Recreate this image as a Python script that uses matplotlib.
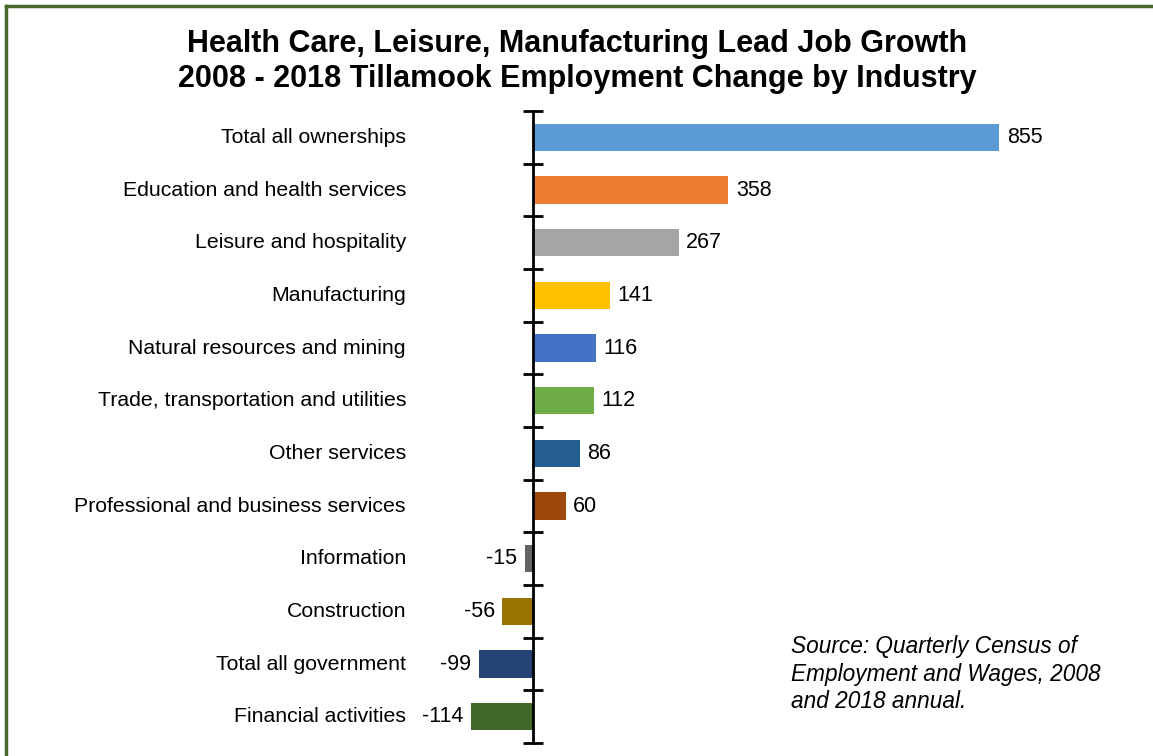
import matplotlib.pyplot as plt
import numpy as np
from matplotlib.lines import Line2D
from matplotlib.transforms import blended_transform_factory

plt.rcParams['font.family'] = ['Liberation Sans', 'DejaVu Sans']

# Data
industries = ['Total all ownerships', 'Education and health services', 'Leisure and hospitality',
              'Manufacturing', 'Natural resources and mining', 'Trade, transportation and utilities',
              'Other services', 'Professional and business services', 'Information',
              'Construction', 'Total all government', 'Financial activities']
change = [855, 358, 267, 141, 116, 112, 86, 60, -15, -56, -99, -114]
colors = ['#5B9BD5', '#ED7D31', '#A5A5A5', '#FFC000', '#4472C4', '#70AD47',
          '#255E91', '#9E480E', '#636363', '#997300', '#264478', '#43682B']

W, H = 1153, 756
fig = plt.figure(figsize=(W / 100, H / 100), dpi=100)

# axes placed so the zero line sits at x=533px
xmin, xmax = -200, 1000
px_per_unit = 466 / 855
left_px = 533 + xmin * px_per_unit
width_px = (xmax - xmin) * px_per_unit
ax = fig.add_axes([left_px / W, 1 - 743 / H, width_px / W, (743 - 111) / H])

y = np.arange(len(industries))
bars = ax.barh(y, change, height=0.52, color=colors)
ax.set_xlim(xmin, xmax)
ax.set_ylim(len(industries) - 0.5, -0.5)

for spine in ['top', 'right', 'bottom']:
    ax.spines[spine].set_visible(False)
ax.spines['left'].set_position(('data', 0))
ax.spines['left'].set_linewidth(2)
ax.set_xticks([])
ax.set_yticks(np.arange(len(industries) + 1) - 0.5)
ax.tick_params(axis='y', direction='inout', length=15, width=2, labelleft=False)

# category names at a fixed spot left of the axis
trans = blended_transform_factory(fig.transFigure, ax.transData)
for i, name in enumerate(industries):
    ax.text(406 / W, i, name, transform=trans, ha='right', va='center', fontsize=15.3)

# value labels
for bar, val in zip(bars, change):
    yc = bar.get_y() + bar.get_height() / 2
    if val >= 0:
        ax.text(val + 14, yc, str(val), ha='left', va='center', fontsize=15.5)
    else:
        ax.text(val - 14, yc, str(val), ha='right', va='center', fontsize=15.5)

# Title
fig.text(577 / W, 1 - 44 / H, 'Health Care, Leisure, Manufacturing Lead Job Growth',
         ha='center', va='center', fontsize=22, fontweight='bold')
fig.text(577 / W, 1 - 79 / H, '2008 - 2018 Tillamook Employment Change by Industry',
         ha='center', va='center', fontsize=22, fontweight='bold')

# Source note
source = ['Source: Quarterly Census of', 'Employment and Wages, 2008', 'and 2018 annual.']
for k, line in enumerate(source):
    fig.text(791 / W, 1 - (646 + 28 * k) / H, line, ha='left', va='center',
             fontsize=16.3, style='italic')

# green frame along the top and left edges
frame = '#4A6A2A'
fig.add_artist(Line2D([6 / W, 6 / W], [0, 1 - 6 / H], color=frame, lw=2.5))
fig.add_artist(Line2D([6 / W, 1], [1 - 6 / H, 1 - 6 / H], color=frame, lw=2.5))

fig.savefig('out.png', dpi=100, facecolor='white')
